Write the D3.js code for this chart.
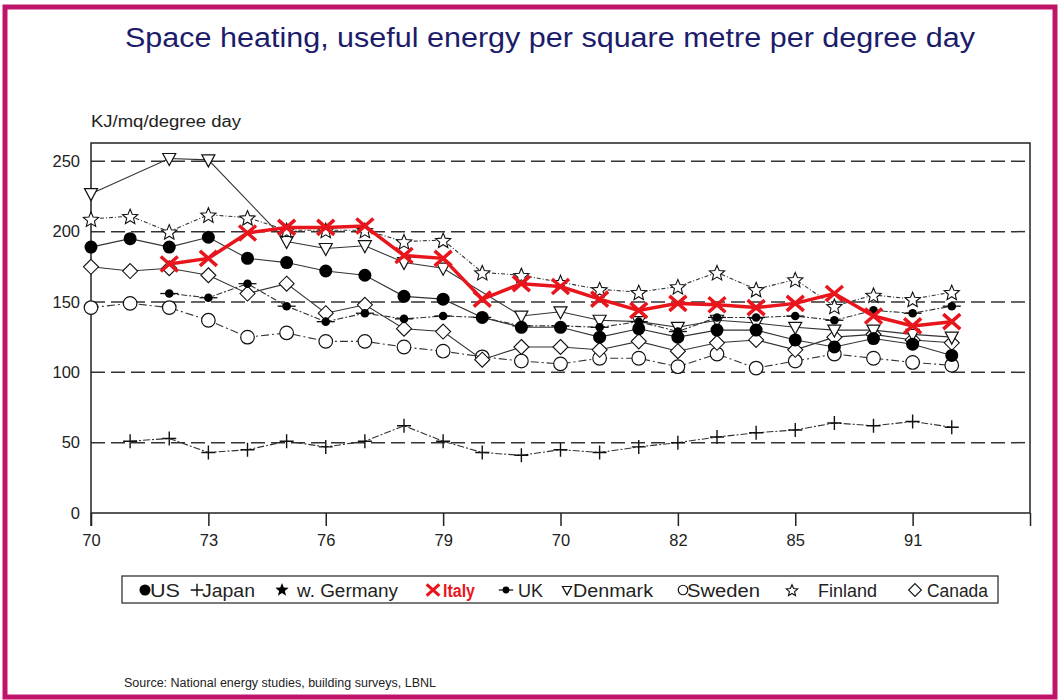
<!DOCTYPE html>
<html>
<head>
<meta charset="utf-8">
<script src="https://cdn.jsdelivr.net/npm/d3@7"></script>
<style>
  html, body { margin: 0; padding: 0; background: #fff; }
  text { font-family: "Liberation Sans", Arial, Helvetica, sans-serif; }
</style>
</head>
<body>
<script>
// ---------------- DATA ----------------
const xIndex = d3.range(0, 23);               // data positions (3 per labelled tick)
const xTickPositions = [0, 3, 6, 9, 12, 15, 18, 21, 24];
const xTickLabels = ["70", "73", "76", "79", "70", "82", "85", "91", ""];
const yTickValues = [0, 50, 100, 150, 200, 250];

const seriesNames = ["US", "Japan", "w. Germany", "Italy", "UK", "Denmark", "Sweden", "Finland", "Canada"];

const usValues      = [189,195,189,196,181,178,172,169,154,152,139,132,132,125,131,125,130,130,123,118,124,120,112];
const japanValues   = [null,51,53,43,45,51,47,51,62,51,43,41,45,43,47,50,54,57,59,64,62,65,61];
const germanyValues = [];
const italyValues   = [null,null,177,181,199,203,203,204,183,181,152,163,161,152,144,149,148,146,149,156,140,133,136];
const ukValues      = [null,null,156,153,163,147,136,142,138,140,139,133,133,132,136,129,139,139,140,137,144,142,147];
const denmarkValues = [227,null,252,251,null,193,188,190,178,174,null,140,143,137,136,132,137,135,132,130,130,127,125];
const swedenValues  = [146,149,146,137,125,128,122,122,118,115,111,108,106,110,110,104,113,103,108,113,110,107,105];
const finlandValues = [209,211,200,212,210,201,201,201,193,194,171,169,164,159,157,161,171,159,166,147,155,152,157];
const canadaValues  = [175,172,174,169,156,163,142,148,131,129,109,118,118,116,122,115,121,123,116,125,127,123,121];

const titleText  = "Space heating, useful energy per square metre per degree day";
const yUnitText  = "KJ/mq/degree day";
const sourceText = "Source: National energy studies, building surveys, LBNL";

// ---------------- STYLES / LAYOUT ----------------
const W = 1060, H = 700;
const svg = d3.select("body").append("svg").attr("width", W).attr("height", H);

const border = "#c0146a";
svg.append("rect").attr("x", 5).attr("y", 7).attr("width", 1050).attr("height", 690)
  .attr("fill", "#fff").attr("stroke", border).attr("stroke-width", 5);

const x = d3.scaleLinear().domain([0, 24]).range([91, 1030]);
const y = d3.scaleLinear().domain([0, 263]).range([513, 143]);

// title
svg.append("text").attr("x", 550).attr("y", 47).attr("text-anchor", "middle")
  .attr("font-size", 27).attr("fill", "#1c1c6a")
  .attr("textLength", 850).attr("lengthAdjust", "spacingAndGlyphs")
  .text(titleText);

svg.append("text").attr("x", 91).attr("y", 127).attr("font-size", 16).attr("fill", "#222")
  .attr("textLength", 150).attr("lengthAdjust", "spacingAndGlyphs")
  .text(yUnitText);

svg.append("text").attr("x", 124).attr("y", 687).attr("font-size", 12.5).attr("fill", "#222")
  .text(sourceText);

// gridlines
svg.append("g").selectAll("line").data(yTickValues.filter(v => v > 0)).join("line")
  .attr("x1", x(0)).attr("x2", x(24))
  .attr("y1", d => y(d)).attr("y2", d => y(d))
  .attr("stroke", "#333").attr("stroke-width", 1.5).attr("stroke-dasharray", "14,6");

// y axis labels
const yAxis = svg.append("g").attr("transform", `translate(${x(0)},0)`)
  .call(d3.axisLeft(y).tickValues(yTickValues).tickSize(0).tickPadding(11).tickFormat(d3.format("d")));
yAxis.select(".domain").remove();
yAxis.selectAll("text").attr("font-size", 16.5).attr("fill", "#222")
  .style("font-family", '"Liberation Sans", Arial, sans-serif');

// x axis
const xAxis = svg.append("g").attr("transform", `translate(0,${y(0)})`)
  .call(d3.axisBottom(x).tickValues(xTickPositions).tickSize(13).tickPadding(8)
    .tickFormat((d, i) => xTickLabels[i]));
xAxis.select(".domain").remove();
xAxis.selectAll("line").attr("stroke", "#222").attr("stroke-width", 1.5);
xAxis.selectAll("text").attr("font-size", 16.5).attr("fill", "#222")
  .style("font-family", '"Liberation Sans", Arial, sans-serif');

// frame
svg.append("rect").attr("x", x(0)).attr("y", y(263)).attr("width", x(24) - x(0)).attr("height", y(0) - y(263))
  .attr("fill", "none").attr("stroke", "#222").attr("stroke-width", 1.5);
svg.append("line").attr("x1", x(0)).attr("x2", x(0)).attr("y1", y(0)).attr("y2", y(0) + 13)
  .attr("stroke", "#222").attr("stroke-width", 1.5);

// ---------------- MARKERS ----------------
function starPath(cx, cy, ro, ri) {
  let p = "";
  for (let k = 0; k < 10; k++) {
    const r = k % 2 === 0 ? ro : ri;
    const a = -Math.PI / 2 + k * Math.PI / 5;
    p += (k === 0 ? "M" : "L") + (cx + r * Math.cos(a)).toFixed(2) + "," + (cy + r * Math.sin(a)).toFixed(2);
  }
  return p + "Z";
}
function drawMarker(g, type, cx, cy, s) {
  s = s || 1;
  switch (type) {
    case "bigdot":
      g.append("circle").attr("cx", cx).attr("cy", cy).attr("r", 6.5 * s).attr("fill", "#000"); break;
    case "plus":
      g.append("path").attr("d", `M${cx - 7 * s},${cy}H${cx + 7 * s}M${cx},${cy - 7 * s}V${cy + 7 * s}`)
        .attr("stroke", "#111").attr("stroke-width", 1.4).attr("fill", "none"); break;
    case "filledstar":
      g.append("path").attr("d", starPath(cx, cy, 7 * s, 3 * s)).attr("fill", "#000"); break;
    case "cross":
      g.append("path").attr("d", `M${cx - 8.5 * s},${cy - 7.5 * s}L${cx + 8.5 * s},${cy + 7.5 * s}M${cx - 8.5 * s},${cy + 7.5 * s}L${cx + 8.5 * s},${cy - 7.5 * s}`)
        .attr("stroke", "#e8161c").attr("stroke-width", 3.5 * Math.min(1, s + 0.15)).attr("fill", "none"); break;
    case "smalldot":
      g.append("path").attr("d", `M${cx - 9 * s},${cy}H${cx + 9 * s}`).attr("stroke", "#111").attr("stroke-width", 1.3);
      g.append("circle").attr("cx", cx).attr("cy", cy).attr("r", 4.3 * s).attr("fill", "#000"); break;
    case "tridown":
      g.append("path").attr("d", `M${cx - 6.5 * s},${cy - 5 * s}L${cx + 6.5 * s},${cy - 5 * s}L${cx},${cy + 7 * s}Z`)
        .attr("fill", "#fff").attr("stroke", "#111").attr("stroke-width", 1.2); break;
    case "opencircle":
      g.append("circle").attr("cx", cx).attr("cy", cy).attr("r", 6.8 * s)
        .attr("fill", "#fff").attr("stroke", "#111").attr("stroke-width", 1.2); break;
    case "openstar":
      g.append("path").attr("d", starPath(cx, cy + 1 * s, 8 * s, 3.6 * s))
        .attr("fill", "#fff").attr("stroke", "#111").attr("stroke-width", 1.1); break;
    case "diamond":
      g.append("path").attr("d", `M${cx},${cy - 7.5 * s}L${cx + 7.5 * s},${cy}L${cx},${cy + 7.5 * s}L${cx - 7.5 * s},${cy}Z`)
        .attr("fill", "#fff").attr("stroke", "#111").attr("stroke-width", 1.1); break;
  }
}

// ---------------- SERIES ----------------
const seriesValues = [usValues, japanValues, germanyValues, italyValues, ukValues, denmarkValues, swedenValues, finlandValues, canadaValues];
const markerTypes = ["bigdot", "plus", "filledstar", "cross", "smalldot", "tridown", "opencircle", "openstar", "diamond"];
const lineDash = ["none", "7,2,2,2", "none", "none", "6,2,2,2", "none", "8,3,2,3", "4,2,1,2", "none"];

const drawOrder = [6, 8, 5, 1, 4, 0, 2, 7, 3];
const lineGen = d3.line().x(d => x(d.i)).y(d => y(d.v));

drawOrder.forEach(si => {
  const pts = seriesValues[si].map((v, i) => ({ i: xIndex[i], v })).filter(d => d.v != null);
  if (!pts.length) return;
  const g = svg.append("g");
  const isItaly = seriesNames[si] === "Italy";
  g.append("path").datum(pts).attr("d", lineGen).attr("fill", "none")
    .attr("stroke", isItaly ? "#e8161c" : "#333")
    .attr("stroke-width", isItaly ? 3.5 : 1.1)
    .attr("stroke-dasharray", lineDash[si]);
  pts.forEach(d => drawMarker(g, markerTypes[si], x(d.i), y(d.v), 1));
});

// ---------------- LEGEND ----------------
svg.append("rect").attr("x", 122).attr("y", 576).attr("width", 876).attr("height", 27)
  .attr("fill", "#fff").attr("stroke", "#333").attr("stroke-width", 1.3);

const legendMarkerX = [145, 197, 282, 433, 506, 567, 683, 792, 915];
const legendTextX   = [150, 202, 297, 443, 518, 573, 687, 818, 927];
const legendTextW   = [30, 53, 101, 32, 25, 80, 73, 59, 61];
const legendMarkerScale = [0.85, 0.9, 1, 0.75, 0.8, 0.7, 0.7, 0.75, 0.85];
const lg = svg.append("g");
seriesNames.forEach((name, i) => {
  drawMarker(lg, markerTypes[i], legendMarkerX[i], 590, legendMarkerScale[i]);
  lg.append("text").attr("x", legendTextX[i]).attr("y", 597)
    .attr("font-size", 17.5)
    .attr("font-weight", name === "Italy" ? "bold" : "normal")
    .attr("fill", name === "Italy" ? "#e8161c" : "#222")
    .attr("textLength", legendTextW[i]).attr("lengthAdjust", "spacingAndGlyphs")
    .text(name);
});
</script>
</body>
</html>
